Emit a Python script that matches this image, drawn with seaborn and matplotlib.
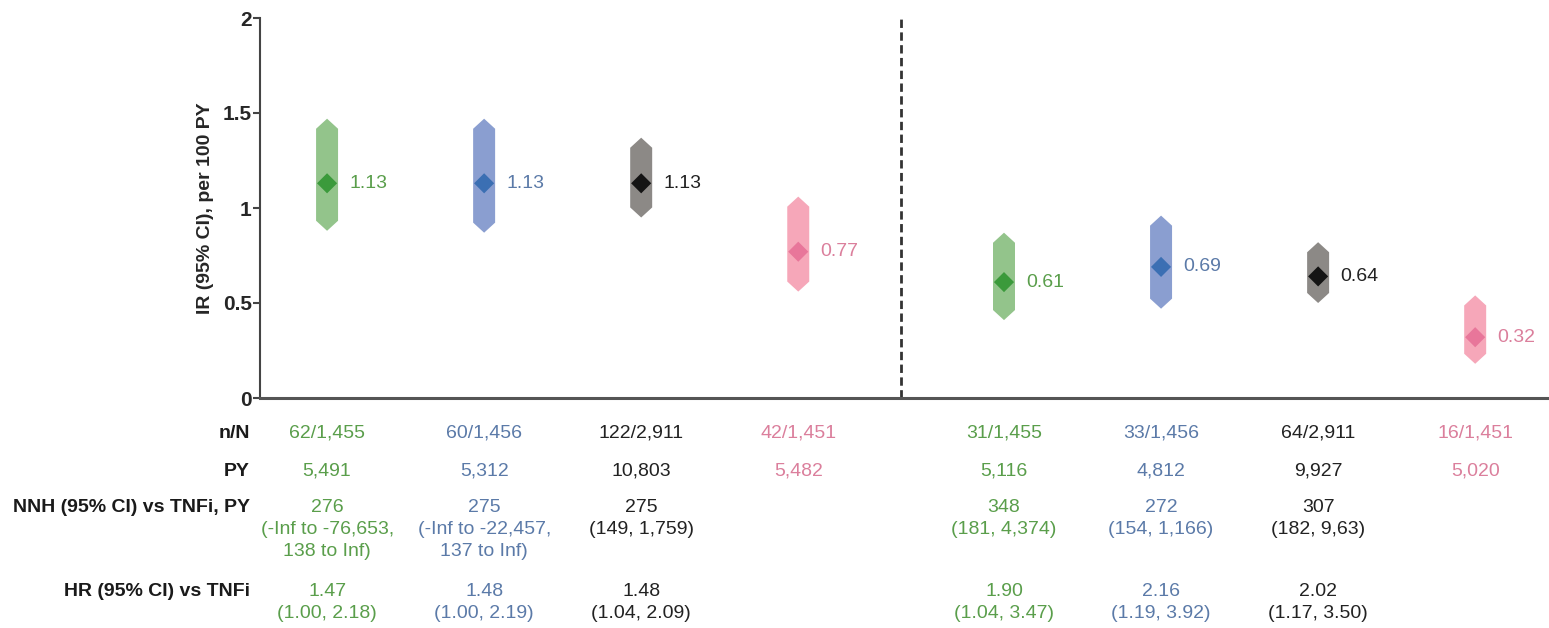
import numpy as np
import pandas as pd
import matplotlib
matplotlib.use("Agg")
import matplotlib.pyplot as plt
import seaborn as sns
from matplotlib.transforms import blended_transform_factory

# ---- data ----
arms = ["5 mg", "10 mg", "Combined", "TNFi"]
panels = ["Panel A", "Panel B"]

ir = [1.13, 1.13, 1.13, 0.77, 0.61, 0.69, 0.64, 0.32]
ci_low = [0.88, 0.87, 0.95, 0.56, 0.41, 0.47, 0.50, 0.18]
ci_high = [1.47, 1.47, 1.37, 1.06, 0.87, 0.96, 0.82, 0.54]
ir_labels = ["1.13", "1.13", "1.13", "0.77", "0.61", "0.69", "0.64", "0.32"]

n_over_N = ["62/1,455", "60/1,456", "122/2,911", "42/1,451",
            "31/1,455", "33/1,456", "64/2,911", "16/1,451"]
py = ["5,491", "5,312", "10,803", "5,482", "5,116", "4,812", "9,927", "5,020"]
nnh = ["276\n(-Inf to -76,653,\n138 to Inf)", "275\n(-Inf to -22,457,\n137 to Inf)",
       "275\n(149, 1,759)", "",
       "348\n(181, 4,374)", "272\n(154, 1,166)", "307\n(182, 9,63)", ""]
hr = ["1.47\n(1.00, 2.18)", "1.48\n(1.00, 2.19)", "1.48\n(1.04, 2.09)", "",
      "1.90\n(1.04, 3.47)", "2.16\n(1.19, 3.92)", "2.02\n(1.17, 3.50)", ""]
row_labels = ["n/N", "PY", "NNH (95% CI) vs TNFi, PY", "HR (95% CI) vs TNFi"]

yticks = [0, 0.5, 1, 1.5, 2]
ytick_labels = ["0", "0.5", "1", "1.5", "2"]

# colours per arm
fill_colors = {"5 mg": "#93c48b", "10 mg": "#8a9ed0", "Combined": "#8c8986", "TNFi": "#f6a7b9"}
dot_colors = {"5 mg": "#3b9a3b", "10 mg": "#3b6fb3", "Combined": "#141414", "TNFi": "#e8769a"}
text_colors = {"5 mg": "#5a9e4b", "10 mg": "#5b7aa8", "Combined": "#222222", "TNFi": "#db7f9c"}

# ---- build table ----
gap = 0.31
df = pd.DataFrame({
    "panel": np.repeat(panels, len(arms)),
    "arm": arms * len(panels),
    "ir": ir, "lo": ci_low, "hi": ci_high,
})
df["xpos"] = [p * (len(arms) + gap) + a for p in range(len(panels)) for a in range(len(arms))]

sns.set_theme(style="ticks")
plt.rcParams["font.family"] = ["Liberation Sans", "DejaVu Sans"]

W, H = 1549, 628
fig = plt.figure(figsize=(W / 100, H / 100), dpi=100)
ax = fig.add_axes([260 / W, 1 - 398 / H, (W - 260) / W, 380 / H])
ax.set_xlim(-0.427, 7.78)
ax.set_ylim(0, 2)

# CI bars with pointed ends (hexagons)
half_w = 0.07
tip = 0.053
for _, r in df.iterrows():
    x = r["xpos"]
    xs = [x, x + half_w, x + half_w, x, x - half_w, x - half_w]
    ys = [r["hi"], r["hi"] - tip, r["lo"] + tip, r["lo"], r["lo"] + tip, r["hi"] - tip]
    ax.fill(xs, ys, color=fill_colors[r["arm"]], lw=0, zorder=1)

sns.scatterplot(data=df, x="xpos", y="ir", hue="arm", palette=dot_colors,
                marker="D", s=105, linewidth=0, legend=False, zorder=3, ax=ax)

for (_, r), lab in zip(df.iterrows(), ir_labels):
    ax.annotate(lab, (r["xpos"], r["ir"]), xytext=(16, 0), textcoords="offset points",
                ha="left", va="center", fontsize=14, color=text_colors[r["arm"]])

# divider between the two panels
ax.plot([len(arms) - 1 + (1 + gap) / 2] * 2, [0, 2], color="#333333", lw=2,
        linestyle=(0, (3, 1.6)), zorder=2)

ax.set_xticks([])
ax.set_xlabel("")
ax.set_yticks(yticks)
ax.set_yticklabels(ytick_labels, fontweight="bold")
ax.tick_params(axis="y", length=5, width=1.5, pad=1, labelsize=15, color="#444444")
ax.set_ylabel("IR (95% CI), per 100 PY", fontsize=14, fontweight="bold", labelpad=6)
sns.despine(ax=ax)
ax.spines["left"].set_linewidth(1.5)
ax.spines["left"].set_color("#444444")
ax.spines["bottom"].set_linewidth(2.2)
ax.spines["bottom"].set_color("#555555")

# ---- table below the axis ----
trans = blended_transform_factory(ax.transData, fig.transFigure)
row_y = [433, 471, 508, 592]
line_h = 22
for label, y0 in zip(row_labels, row_y):
    fig.text(250 / W, 1 - y0 / H, label, ha="right", va="center",
             fontsize=14, fontweight="bold", color="#1a1a1a")

for col, y0 in zip([n_over_N, py, nnh, hr], row_y):
    for (_, r), cell in zip(df.iterrows(), col):
        for i, line in enumerate(cell.split("\n")):
            if line:
                ax.text(r["xpos"], 1 - (y0 + i * line_h) / H, line, transform=trans,
                        ha="center", va="center", fontsize=14,
                        color=text_colors[r["arm"]], clip_on=False)

fig.savefig("out.png", dpi=100)
